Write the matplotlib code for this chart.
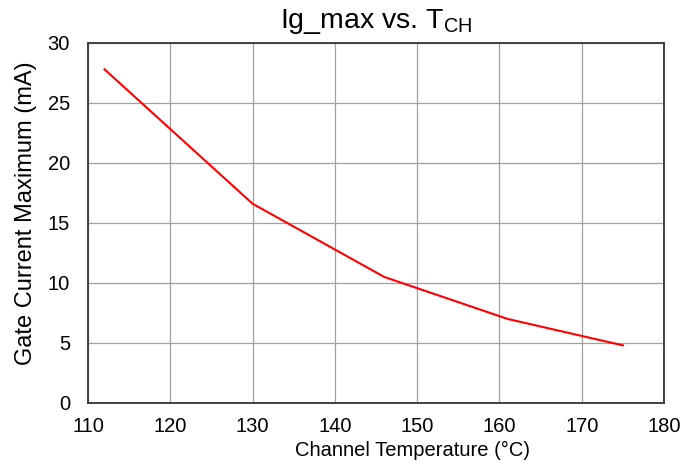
import matplotlib
matplotlib.use("Agg")
import matplotlib.pyplot as plt

temp_c = [112, 130, 146, 161, 175]
ig_max_ma = [27.8, 16.6, 10.5, 7.0, 4.8]
x_ticks = [110, 120, 130, 140, 150, 160, 170, 180]
y_ticks = [0, 5, 10, 15, 20, 25, 30]

plt.rcParams['font.family'] = ['Liberation Sans', 'DejaVu Sans']

fig = plt.figure(figsize=(6.99, 4.70), dpi=100)
ax = fig.add_axes([0.126, 0.1426, 0.824, 0.766])

ax.plot(temp_c, ig_max_ma, color='#ff0000', linewidth=1.5, zorder=3)

ax.set_xlim(110, 180)
ax.set_ylim(0, 30)
ax.set_xticks(x_ticks)
ax.set_yticks(y_ticks)
ax.grid(True, color='#a0a0a0', linewidth=0.9)
ax.tick_params(axis='x', length=0, labelsize=14.5, pad=10, colors='black')
ax.tick_params(axis='y', length=0, labelsize=14.5, pad=13, colors='black')
for s in ax.spines.values():
    s.set_color('#404040')
    s.set_linewidth(1.4)

ax.set_xlabel('Channel Temperature (°C)', fontsize=14.5, labelpad=4, x=0.5625)
ax.set_ylabel('Gate Current Maximum (mA)', fontsize=17, labelpad=8, y=0.528)
ax.set_title(r'Ig_max vs. T$_{\mathregular{CH}}$', fontsize=20.5, pad=11)

fig.savefig('out.png', dpi=100)
